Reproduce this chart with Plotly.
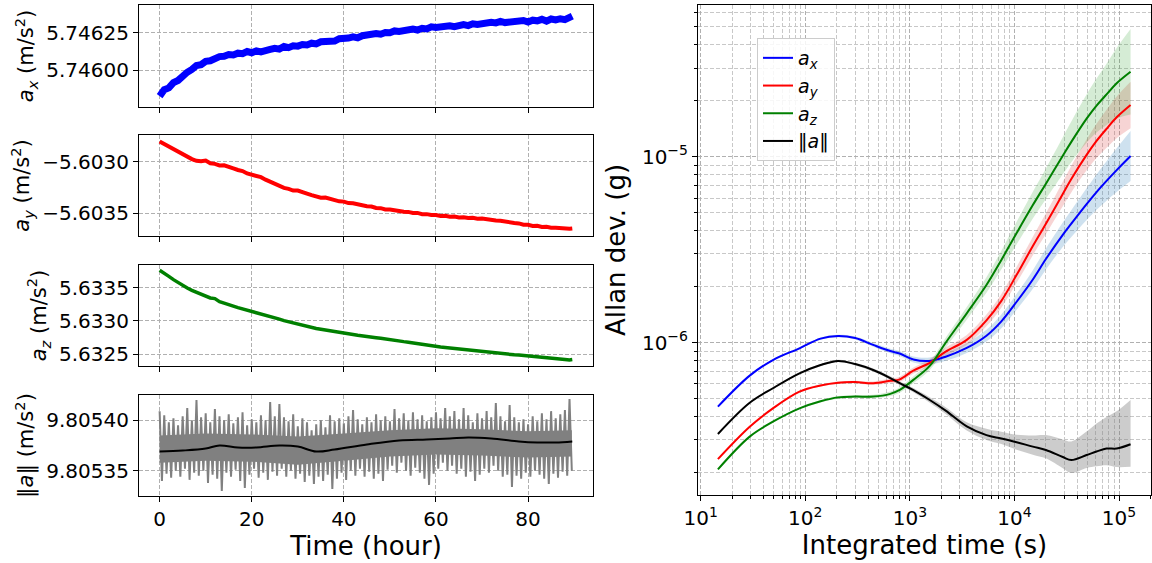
import numpy as np
import plotly.graph_objects as go

# ---------------- Left: time series (hours) ----------------
t_hours = list(range(90)) + [89.6]

ax_series = [5.745825, 5.745868, 5.745880, 5.745915, 5.745930, 5.745962, 5.745985, 5.746004, 5.746030, 5.746036,
             5.746058, 5.746062, 5.746081, 5.746090, 5.746092, 5.746104, 5.746101, 5.746113, 5.746110, 5.746124,
             5.746116, 5.746128, 5.746121, 5.746135, 5.746138, 5.746146, 5.746140, 5.746158, 5.746150, 5.746162,
             5.746160, 5.746171, 5.746168, 5.746180, 5.746175, 5.746189, 5.746192, 5.746198, 5.746194, 5.746210,
             5.746208, 5.746214, 5.746222, 5.746216, 5.746230, 5.746236, 5.746232, 5.746245, 5.746240, 5.746252,
             5.746250, 5.746262, 5.746258, 5.746266, 5.746262, 5.746274, 5.746268, 5.746280, 5.746276, 5.746290,
             5.746286, 5.746292, 5.746288, 5.746296, 5.746290, 5.746300, 5.746304, 5.746298, 5.746310, 5.746306,
             5.746314, 5.746310, 5.746320, 5.746316, 5.746326, 5.746318, 5.746322, 5.746330, 5.746326, 5.746332,
             5.746322, 5.746334, 5.746330, 5.746340, 5.746328, 5.746342, 5.746336, 5.746344, 5.746338, 5.746346,
             5.746362]

ay_series = [-5.602800, -5.602825, -5.602852, -5.602870, -5.602897, -5.602918, -5.602947, -5.602972, -5.602988, -5.602993,
             -5.602986, -5.603012, -5.603018, -5.603033, -5.603032, -5.603052, -5.603063, -5.603078, -5.603088, -5.603112,
             -5.603123, -5.603132, -5.603148, -5.603172, -5.603193, -5.603218, -5.603238, -5.603252, -5.603262, -5.603278,
             -5.603278, -5.603298, -5.603308, -5.603323, -5.603333, -5.603348, -5.603347, -5.603362, -5.603370, -5.603383,
             -5.603386, -5.603400, -5.603403, -5.603415, -5.603418, -5.603431, -5.603434, -5.603448, -5.603450, -5.603463,
             -5.603464, -5.603473, -5.603474, -5.603485, -5.603486, -5.603497, -5.603496, -5.603508, -5.603508, -5.603517,
             -5.603516, -5.603525, -5.603524, -5.603533, -5.603532, -5.603540, -5.603538, -5.603546, -5.603544, -5.603552,
             -5.603550, -5.603559, -5.603560, -5.603571, -5.603572, -5.603583, -5.603584, -5.603595, -5.603598, -5.603611,
             -5.603612, -5.603623, -5.603622, -5.603633, -5.603632, -5.603641, -5.603640, -5.603647, -5.603644, -5.603651,
             -5.603648]

az_series = [5.633760, 5.633720, 5.633670, 5.633620, 5.633575, 5.633530, 5.633495, 5.633460, 5.633430, 5.633400,
             5.633370, 5.633345, 5.633335, 5.633290, 5.633268, 5.633240, 5.633222, 5.633200, 5.633182, 5.633160,
             5.633142, 5.633120, 5.633102, 5.633085, 5.633067, 5.633045, 5.633027, 5.633005, 5.632987, 5.632965,
             5.632947, 5.632930, 5.632917, 5.632900, 5.632887, 5.632875, 5.632862, 5.632850, 5.632837, 5.632825,
             5.632817, 5.632805, 5.632797, 5.632785, 5.632779, 5.632768, 5.632760, 5.632748, 5.632740, 5.632728,
             5.632722, 5.632710, 5.632702, 5.632690, 5.632682, 5.632670, 5.632662, 5.632650, 5.632642, 5.632628,
             5.632617, 5.632608, 5.632602, 5.632594, 5.632588, 5.632578, 5.632572, 5.632562, 5.632556, 5.632546,
             5.632540, 5.632532, 5.632528, 5.632520, 5.632514, 5.632505, 5.632500, 5.632492, 5.632488, 5.632480,
             5.632476, 5.632468, 5.632462, 5.632452, 5.632446, 5.632438, 5.632432, 5.632424, 5.632420, 5.632414,
             5.632420]

# |a| raw samples: alternating local maxima (on the hour) and minima (half past)
norm_peaks = [9.805409, 9.805405, 9.805398, 9.805402, 9.805395, 9.805404, 9.805412, 9.805400, 9.805420, 9.805403,
              9.805407, 9.805398, 9.805411, 9.805404, 9.805400, 9.805406, 9.805397, 9.805403, 9.805408, 9.805395,
              9.805401, 9.805398, 9.805405, 9.805400, 9.805418, 9.805404, 9.805416, 9.805403, 9.805399, 9.805406,
              9.805394, 9.805402, 9.805398, 9.805390, 9.805396, 9.805400, 9.805393, 9.805405, 9.805399, 9.805402,
              9.805397, 9.805404, 9.805410, 9.805401, 9.805396, 9.805403, 9.805398, 9.805406, 9.805400, 9.805404,
              9.805399, 9.805411, 9.805402, 9.805407, 9.805400, 9.805408, 9.805401, 9.805405, 9.805399, 9.805403,
              9.805408, 9.805402, 9.805412, 9.805404, 9.805409, 9.805401, 9.805412, 9.805405, 9.805398, 9.805407,
              9.805402, 9.805409, 9.805403, 9.805417, 9.805404, 9.805399, 9.805415, 9.805403, 9.805398, 9.805401,
              9.805396, 9.805404, 9.805399, 9.805407, 9.805401, 9.805409, 9.805402, 9.805406, 9.805410, 9.805421]
norm_troughs = [9.805340, 9.805347, 9.805343, 9.805350, 9.805344, 9.805352, 9.805341, 9.805348, 9.805345, 9.805350,
                9.805338, 9.805346, 9.805342, 9.805330, 9.805348, 9.805344, 9.805351, 9.805340, 9.805333, 9.805346,
                9.805352, 9.805343, 9.805348, 9.805341, 9.805349, 9.805345, 9.805352, 9.805344, 9.805350, 9.805342,
                9.805347, 9.805339, 9.805345, 9.805337, 9.805344, 9.805340, 9.805346, 9.805332, 9.805342, 9.805348,
                9.805341, 9.805350, 9.805345, 9.805352, 9.805344, 9.805349, 9.805342, 9.805347, 9.805340, 9.805351,
                9.805355, 9.805348, 9.805358, 9.805350, 9.805345, 9.805353, 9.805348, 9.805342, 9.805336, 9.805347,
                9.805352, 9.805358, 9.805350, 9.805355, 9.805347, 9.805352, 9.805344, 9.805349, 9.805340, 9.805346,
                9.805352, 9.805348, 9.805355, 9.805350, 9.805344, 9.805346, 9.805334, 9.805345, 9.805342, 9.805348,
                9.805344, 9.805350, 9.805346, 9.805342, 9.805337, 9.805347, 9.805343, 9.805349, 9.805345, 9.805350]

# dense core of the |a| noise band
norm_core_t = [0, 10, 20, 30, 40, 50, 60, 70, 80, 89.5]
norm_core_hi = [9.805385, 9.805387, 9.805386, 9.805384, 9.805387, 9.805390, 9.805392, 9.805391, 9.805389, 9.805390]
norm_core_lo = [9.805358, 9.805360, 9.805359, 9.805356, 9.805360, 9.805364, 9.805366, 9.805365, 9.805363, 9.805364]

norm_avg_t = [0, 5, 10, 13, 17, 21, 26, 30, 34, 38, 45, 52, 58, 63, 67, 72, 78, 82, 86, 89.6]
norm_avg = [9.805369, 9.805370, 9.805372, 9.805375, 9.805373, 9.805373, 9.805375, 9.805374, 9.805369, 9.805371,
            9.805376, 9.805380, 9.805381, 9.805382, 9.805383, 9.805382, 9.805379, 9.805378, 9.805378, 9.805379]

# ---------------- Right: Allan deviation ----------------
tau = [14.6, 29.4, 49, 88, 140, 206, 300, 446, 650, 800, 1080, 1550, 2200, 3500, 5400, 7500,
       1.05e4, 1.5e4, 2.0e4, 2.9e4, 3.5e4, 4.9e4, 6.1e4, 7.6e4, 9.5e4, 1.29e5]

adev_ax = [4.53e-7, 6.65e-7, 8.07e-7, 9.33e-7, 1.052e-6, 1.086e-6, 1.059e-6, 9.73e-7, 9.02e-7, 8.75e-7,
           8.13e-7, 7.98e-7, 8.41e-7, 9.376e-7, 1.091e-6, 1.303e-6, 1.660e-6, 2.188e-6, 2.818e-6, 3.802e-6,
           4.365e-6, 5.559e-6, 6.457e-6, 7.413e-6, 8.472e-6, 1.009e-5]
adev_ay = [2.366e-7, 3.532e-7, 4.436e-7, 5.458e-7, 5.888e-7, 6.095e-7, 6.138e-7, 6.053e-7, 6.237e-7, 6.353e-7,
           7.079e-7, 7.798e-7, 8.954e-7, 1.035e-6, 1.318e-6, 1.679e-6, 2.317e-6, 3.311e-6, 4.365e-6, 6.310e-6,
           7.586e-6, 1.023e-5, 1.216e-5, 1.413e-5, 1.629e-5, 1.897e-5]
adev_az = [2.084e-7, 3.126e-7, 3.758e-7, 4.436e-7, 4.842e-7, 5.082e-7, 5.129e-7, 5.129e-7, 5.309e-7, 5.572e-7,
           6.310e-7, 7.499e-7, 1.000e-6, 1.439e-6, 2.042e-6, 2.786e-6, 3.890e-6, 5.495e-6, 7.161e-6, 1.012e-5,
           1.202e-5, 1.603e-5, 1.884e-5, 2.163e-5, 2.483e-5, 2.864e-5]
adev_norm = [3.228e-7, 4.753e-7, 5.689e-7, 6.839e-7, 7.586e-7, 7.980e-7, 7.674e-7, 7.129e-7, 6.457e-7, 6.053e-7,
             5.559e-7, 4.920e-7, 4.315e-7, 3.548e-7, 3.184e-7, 3.055e-7, 2.917e-7, 2.761e-7, 2.649e-7, 2.427e-7,
             2.339e-7, 2.489e-7, 2.600e-7, 2.698e-7, 2.698e-7, 2.844e-7]

# confidence band half-widths (decades), upper / lower
err_ax = [0.002, 0.003, 0.004, 0.005, 0.006, 0.007, 0.008, 0.010, 0.012, 0.014, 0.016, 0.019, 0.022, 0.027,
          0.032, 0.037, 0.043, 0.050, 0.056, 0.066, 0.072, 0.085, 0.095, 0.106, 0.118, 0.135]
err_ay = [0.002, 0.003, 0.004, 0.005, 0.006, 0.007, 0.008, 0.010, 0.012, 0.014, 0.016, 0.019, 0.022, 0.027,
          0.032, 0.037, 0.043, 0.050, 0.056, 0.066, 0.072, 0.083, 0.092, 0.102, 0.112, 0.125]
err_az = [0.002, 0.003, 0.004, 0.005, 0.006, 0.007, 0.008, 0.010, 0.012, 0.015, 0.018, 0.022, 0.027, 0.034,
          0.042, 0.050, 0.060, 0.072, 0.082, 0.100, 0.110, 0.130, 0.145, 0.165, 0.190, 0.230]
err_norm_up = [0.004, 0.004, 0.005, 0.005, 0.006, 0.006, 0.007, 0.008, 0.009, 0.010, 0.012, 0.015, 0.018, 0.022,
               0.034, 0.036, 0.040, 0.060, 0.080, 0.095, 0.100, 0.126, 0.150, 0.170, 0.200, 0.238]
err_norm_lo = [0.004, 0.004, 0.005, 0.005, 0.006, 0.006, 0.007, 0.008, 0.009, 0.010, 0.012, 0.015, 0.018, 0.022,
               0.026, 0.030, 0.040, 0.043, 0.045, 0.060, 0.070, 0.070, 0.080, 0.090, 0.100, 0.121]

FONT = "DejaVu Sans"
GRID = "#b0b0b0"
DASH = "4px,2px"

fig = go.Figure()

# left series
fig.add_trace(go.Scatter(x=t_hours, y=ax_series, mode="lines", line=dict(color="blue", width=7),
                         showlegend=False, xaxis="x", yaxis="y"))
fig.add_trace(go.Scatter(x=t_hours, y=ay_series, mode="lines", line=dict(color="red", width=4),
                         showlegend=False, xaxis="x2", yaxis="y2"))
fig.add_trace(go.Scatter(x=t_hours, y=az_series, mode="lines", line=dict(color="green", width=3.5),
                         showlegend=False, xaxis="x3", yaxis="y3"))
fig.add_trace(go.Scatter(x=norm_core_t, y=norm_core_lo, mode="lines", line=dict(width=0, color="gray"),
                         showlegend=False, hoverinfo="skip", xaxis="x4", yaxis="y4"))
fig.add_trace(go.Scatter(x=norm_core_t, y=norm_core_hi, mode="lines", line=dict(width=0, color="gray"),
                         fill="tonexty", fillcolor="#808080", showlegend=False, hoverinfo="skip",
                         xaxis="x4", yaxis="y4"))
zz_t, zz_v = [], []
for i in range(len(norm_peaks)):
    zz_t += [i, i + 0.5]
    zz_v += [norm_peaks[i], norm_troughs[i]]
fig.add_trace(go.Scatter(x=zz_t, y=zz_v, mode="lines", line=dict(color="#808080", width=2.0),
                         showlegend=False, xaxis="x4", yaxis="y4"))
fig.add_trace(go.Scatter(x=norm_avg_t, y=norm_avg, mode="lines", line=dict(color="black", width=2, shape="spline"),
                         showlegend=False, xaxis="x4", yaxis="y4"))

# Allan bands + lines
series = [
    ("<i>a</i><sub><i>x</i></sub>", adev_ax, err_ax, err_ax, "blue", "rgba(31,119,180,0.22)"),
    ("<i>a</i><sub><i>y</i></sub>", adev_ay, err_ay, err_ay, "red", "rgba(214,39,40,0.2)"),
    ("<i>a</i><sub><i>z</i></sub>", adev_az, err_az, err_az, "green", "rgba(44,160,44,0.2)"),
    ("‖<i>a</i>‖", adev_norm, err_norm_up, err_norm_lo, "black", "rgba(128,128,128,0.4)"),
]
for name, vals, eu, el, col, fill in series:
    v = np.array(vals)
    up = v * 10 ** np.array(eu)
    lo = v / 10 ** np.array(el)
    fig.add_trace(go.Scatter(x=tau, y=lo, mode="lines", line=dict(width=0, shape="spline", smoothing=1.0),
                             showlegend=False, hoverinfo="skip", xaxis="x5", yaxis="y5"))
    fig.add_trace(go.Scatter(x=tau, y=up, mode="lines", line=dict(width=0, shape="spline", smoothing=1.0),
                             fill="tonexty", fillcolor=fill, showlegend=False, hoverinfo="skip",
                             xaxis="x5", yaxis="y5"))
for name, vals, eu, el, col, fill in series:
    fig.add_trace(go.Scatter(x=tau, y=vals, mode="lines", name=name,
                             line=dict(color=col, width=2, shape="spline", smoothing=1.0),
                             xaxis="x5", yaxis="y5"))

W, H = 1152, 563
def px_x(a, b):
    return [a / W, b / W]
def px_y(top, bot):
    return [1 - bot / H, 1 - top / H]

tickfont = dict(family=FONT, size=20, color="black")
common_x = dict(range=[-4.48, 94.1], tickvals=[0, 20, 40, 60, 80], showgrid=True, gridcolor=GRID,
                griddash=DASH, gridwidth=1, showline=True, linecolor="black", linewidth=1, mirror=True,
                ticks="outside", ticklen=5, tickcolor="black", zeroline=False, tickfont=tickfont,
                domain=px_x(139, 593), automargin=False)
common_y = dict(showgrid=True, gridcolor=GRID, griddash=DASH, gridwidth=1, showline=True, linecolor="black",
                linewidth=1, mirror=True, ticks="outside", ticklen=5, tickcolor="black", zeroline=False,
                tickfont=tickfont, automargin=False)
ytitle_font = dict(family=FONT, size=21, color="black")

layout = dict(
    width=W, height=H, margin=dict(l=0, r=0, t=0, b=0, autoexpand=False), paper_bgcolor="white",
    plot_bgcolor="white", font=dict(family=FONT, color="black"),
    xaxis=dict(common_x, anchor="y", showticklabels=False),
    xaxis2=dict(common_x, anchor="y2", showticklabels=False),
    xaxis3=dict(common_x, anchor="y3", showticklabels=False),
    xaxis4=dict(common_x, anchor="y4", title=dict(text="Time (hour)", font=dict(family=FONT, size=26),
                                                 standoff=4)),
    yaxis=dict(common_y, anchor="x", domain=px_y(5, 107), range=[5.745752, 5.746436],
               tickvals=[5.74600, 5.74625], tickformat=".5f",
               title=dict(text="<i>a</i><sub><i>x</i></sub> (m/s<sup>2</sup>)", font=ytitle_font, standoff=6)),
    yaxis2=dict(common_y, anchor="x2", domain=px_y(135, 236), range=[-5.603721, -5.602737],
                tickvals=[-5.6035, -5.6030], tickformat=".4f",
                title=dict(text="<i>a</i><sub><i>y</i></sub> (m/s<sup>2</sup>)", font=ytitle_font, standoff=6)),
    yaxis3=dict(common_y, anchor="x3", domain=px_y(265, 366), range=[5.632324, 5.63384],
                tickvals=[5.6325, 5.6330, 5.6335], tickformat=".4f",
                title=dict(text="<i>a</i><sub><i>z</i></sub> (m/s<sup>2</sup>)", font=ytitle_font, standoff=6)),
    yaxis4=dict(common_y, anchor="x4", domain=px_y(395, 496), range=[9.805325, 9.805425],
                tickvals=[9.80535, 9.80540], tickformat=".5f",
                title=dict(text="‖<i>a</i>‖ (m/s<sup>2</sup>)", font=ytitle_font, standoff=6)),
    xaxis5=dict(type="log", anchor="y5", domain=px_x(698, 1151), range=[0.974, 5.306], automargin=False,
                tickvals=[10, 100, 1000, 1e4, 1e5],
                ticktext=["10<sup>1</sup>", "10<sup>2</sup>", "10<sup>3</sup>", "10<sup>4</sup>", "10<sup>5</sup>"],
                showgrid=True, gridcolor=GRID, griddash=DASH, gridwidth=1, showline=True, linecolor="black",
                linewidth=1, mirror=True, ticks="outside", ticklen=5, tickcolor="black", tickfont=tickfont,
                minor=dict(dtick="D1", showgrid=True, gridcolor="#c8c8c8", griddash=DASH, ticks="outside",
                           ticklen=3, tickcolor="black"),
                title=dict(text="Integrated time (s)", font=dict(family=FONT, size=26), standoff=4)),
    yaxis5=dict(type="log", anchor="x5", domain=px_y(5, 495), range=[-6.819, -4.184], automargin=False,
                tickvals=[1e-6, 1e-5], ticktext=["10<sup>−6</sup>", "10<sup>−5</sup>"],
                showgrid=True, gridcolor=GRID, griddash=DASH, gridwidth=1, showline=True, linecolor="black",
                linewidth=1, mirror=True, ticks="outside", ticklen=5, tickcolor="black", tickfont=tickfont,
                minor=dict(dtick="D1", showgrid=True, gridcolor="#c8c8c8", griddash=DASH, ticks="outside",
                           ticklen=3, tickcolor="black"),
                title=dict(text="Allan dev. (g)", font=dict(family=FONT, size=26), standoff=8)),
    legend=dict(x=757 / W, y=1 - 38 / H, xanchor="left", yanchor="top", bgcolor="rgba(255,255,255,0.85)",
                bordercolor="#cccccc", borderwidth=1, font=dict(family=FONT, size=19, color="black"),
                itemwidth=30, tracegroupgap=2, traceorder="normal"),
)
fig.update_layout(**layout)
fig.write_html("out.html", config={"displayModeBar": False},
               post_script="document.body.style.margin='0';document.body.style.overflow='hidden';")
